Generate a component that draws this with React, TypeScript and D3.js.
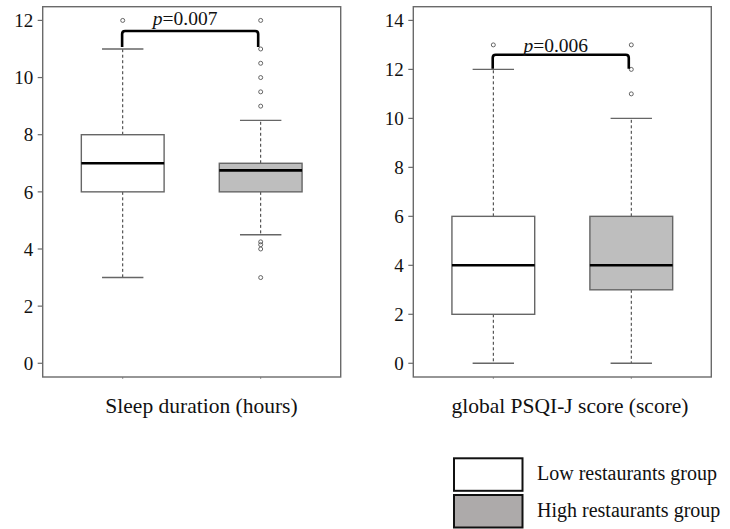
import React from "react";
import * as d3 from "d3";

const groups = ["Low restaurants group", "High restaurants group"];
const groupFills = ["#ffffff", "#bebebe"];
const legendFills = ["#ffffff", "#adaaaa"];

// Sleep duration (hours)
const sleepStats = [
  { lo: 3, q1: 6, med: 7, q3: 8, hi: 11 },
  { lo: 4.5, q1: 6, med: 6.75, q3: 7, hi: 8.5 },
];
const sleepOutliers = [
  [12],
  [12, 11, 10.5, 10, 9.5, 9, 4.25, 4.15, 4, 3],
];
const sleepTicks = [0, 2, 4, 6, 8, 10, 12];
const sleepBracket = { low: 11.07, top: 11.63, label: "0.007" };

// global PSQI-J score
const psqiStats = [
  { lo: 0, q1: 2, med: 4, q3: 6, hi: 12 },
  { lo: 0, q1: 3, med: 4, q3: 6, hi: 10 },
];
const psqiOutliers = [[13], [13, 12, 11]];
const psqiTicks = [0, 2, 4, 6, 8, 10, 12, 14];
const psqiBracket = { low: 12.03, top: 12.6, label: "0.006" };

const FONT = "'Liberation Serif', 'Times New Roman', serif";

type Stat = { lo: number; q1: number; med: number; q3: number; hi: number };

function Panel(props: {
  x0: number;
  x1: number;
  ymax: number;
  stats: Stat[];
  outliers: number[][];
  ticks: number[];
  bracket: { low: number; top: number; label: string };
  title: string;
  titleX: number;
  pBaseline: number;
}) {
  const { x0, x1, ymax, stats, outliers, ticks, bracket, title, titleX, pBaseline } = props;
  const top = 6.7;
  const bottom = 377;
  const ext = ymax * 0.04;
  const x = d3.scaleLinear().domain([0.42, 2.58]).range([x0, x1]);
  const y = d3.scaleLinear().domain([-ext, ymax + ext]).range([bottom, top]);
  const bw = 0.3;
  const cw = 0.15;
  const frameColor = "#6a6a6a";

  const bx1 = x(1) - 0.6;
  const bx2 = x(2) - 2.5;
  const yl = y(bracket.low);
  const yt = y(bracket.top);
  const r = 3;
  const bracketPath = `M${bx1},${yl} L${bx1},${yt + r} Q${bx1},${yt} ${bx1 + r},${yt} L${bx2 - r},${yt} Q${bx2},${yt} ${bx2},${yt + r} L${bx2},${yl}`;

  return (
    <g>
      {stats.map((s, i) => {
        const cx = x(i + 1);
        return (
          <g key={i}>
            <line x1={cx} x2={cx} y1={y(s.q3)} y2={y(s.hi)} stroke="#333" strokeWidth={1} strokeDasharray="3,2.5" />
            <line x1={cx} x2={cx} y1={y(s.q1)} y2={y(s.lo)} stroke="#333" strokeWidth={1} strokeDasharray="3,2.5" />
            <line x1={x(i + 1 - cw)} x2={x(i + 1 + cw)} y1={y(s.hi)} y2={y(s.hi)} stroke="#666" strokeWidth={1.4} />
            <line x1={x(i + 1 - cw)} x2={x(i + 1 + cw)} y1={y(s.lo)} y2={y(s.lo)} stroke="#666" strokeWidth={1.4} />
            <rect
              x={x(i + 1 - bw)}
              y={y(s.q3)}
              width={x(i + 1 + bw) - x(i + 1 - bw)}
              height={y(s.q1) - y(s.q3)}
              fill={groupFills[i]}
              stroke="#666"
              strokeWidth={1.4}
            />
            <line x1={x(i + 1 - bw)} x2={x(i + 1 + bw)} y1={y(s.med)} y2={y(s.med)} stroke="#000" strokeWidth={2.6} />
            {outliers[i].map((v, j) => (
              <circle key={j} cx={cx} cy={y(v)} r={2} fill="none" stroke="#555" strokeWidth={0.9} />
            ))}
            <line x1={cx} x2={cx} y1={bottom} y2={bottom + 2} stroke="#999" strokeWidth={1} />
          </g>
        );
      })}
      <rect x={x0} y={top} width={x1 - x0} height={bottom - top} fill="none" stroke={frameColor} strokeWidth={1.4} />
      {ticks.map((t) => (
        <g key={t}>
          <line x1={x0 - 5} x2={x0} y1={y(t)} y2={y(t)} stroke={frameColor} strokeWidth={1.2} />
          <text x={x0 - 9.5} y={y(t)} dy="0.35em" textAnchor="end" fontFamily={FONT} fontSize={19} fill="#111">
            {t}
          </text>
        </g>
      ))}
      <path d={bracketPath} fill="none" stroke="#000" strokeWidth={2.6} />
      <text x={(bx1 + bx2) / 2 - 5} y={pBaseline} textAnchor="middle" fontFamily={FONT} fontSize={19.5} fill="#111">
        <tspan fontStyle="italic">p</tspan>={bracket.label}
      </text>
      <text x={titleX} y={413} textAnchor="middle" fontFamily={FONT} fontSize={21.5} fill="#111">
        {title}
      </text>
    </g>
  );
}

export default function App() {
  const legendY = [458.3, 495];
  return (
    <svg width={730} height={529} style={{ position: "absolute", left: 0, top: 0 }}>
      <rect width={730} height={529} fill="#fff" />
      <Panel
        x0={42.7}
        x1={340.7}
        ymax={12}
        stats={sleepStats}
        outliers={sleepOutliers}
        ticks={sleepTicks}
        bracket={sleepBracket}
        title="Sleep duration (hours)"
        titleX={201.5}
        pBaseline={25}
      />
      <Panel
        x0={413.3}
        x1={711.3}
        ymax={14}
        stats={psqiStats}
        outliers={psqiOutliers}
        ticks={psqiTicks}
        bracket={psqiBracket}
        title="global PSQI-J score (score)"
        titleX={570}
        pBaseline={51.5}
      />
      {groups.map((g, i) => (
        <g key={g}>
          <rect x={454} y={legendY[i]} width={68.5} height={32.5} fill={legendFills[i]} stroke="#111" strokeWidth={2} />
          <text x={537} y={legendY[i] + 21.5} fontFamily={FONT} fontSize={20} fill="#111">
            {g}
          </text>
        </g>
      ))}
    </svg>
  );
}
